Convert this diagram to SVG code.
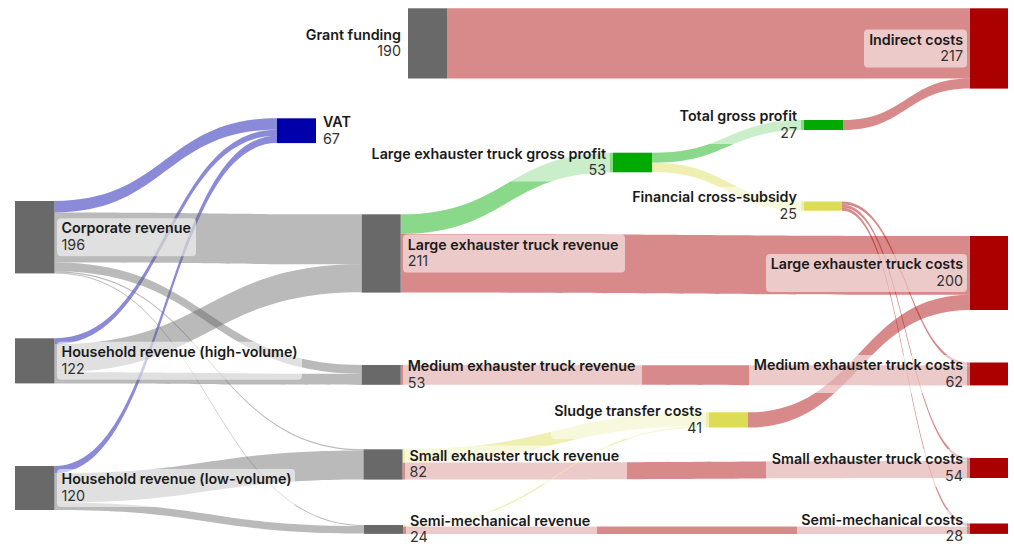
<svg xmlns="http://www.w3.org/2000/svg" width="1014" height="544" viewBox="0 0 1014 544">
<style>
.fl{stroke:none;fill-opacity:0.46}
.g{fill:#696969}.b{fill:#0000aa}.r{fill:#aa0000}.gr{fill:#00aa00}.y{fill:#dddd55}
.box{fill:#ffffff;fill-opacity:0.55}
.nm{font-family:Inter,"Noto Sans",sans-serif;font-size:14.3px;font-weight:600;fill:#1a1a1a}
.vl{font-family:Inter,"Noto Sans",sans-serif;font-size:14.3px;font-weight:400;fill:#333333}
.e{text-anchor:end}
</style>
<rect width="1014" height="544" fill="#ffffff"/>
<g id="connectors">
<path class="fl b" d="M54.5 201 C165.75 201 165.75 118.3 277 118.3 L277 129.8 C165.75 129.8 165.75 212.5 54.5 212.5Z"/>
<path class="fl b" d="M54.5 338.3 C165.75 338.3 165.75 129.8 277 129.8 L277 135.8 C165.75 135.8 165.75 344.3 54.5 344.3Z"/>
<path class="fl b" d="M54.5 466 C165.75 466 165.75 135.8 277 135.8 L277 143.1 C165.75 143.1 165.75 473.3 54.5 473.3Z"/>
<path class="fl g" d="M54.5 212.5 C208.1 212.5 208.1 214.3 361.7 214.3 L361.7 264.3 C208.1 264.3 208.1 262.5 54.5 262.5Z"/>
<path class="fl g" d="M54.5 262.5 C208.1 262.5 208.1 365 361.7 365 L361.7 373.8 C208.1 373.8 208.1 271.3 54.5 271.3Z"/>
<path class="fl g" d="M54.5 271.3 C209 271.3 209 449.3 363.5 449.3 L363.5 450.4 C209 450.4 209 272.4 54.5 272.4Z"/>
<path class="fl g" d="M54.5 272.4 C209.25 272.4 209.25 525 364 525 L364 526 C209.25 526 209.25 273.4 54.5 273.4Z"/>
<path class="fl g" d="M54.5 344.3 C208.1 344.3 208.1 264.3 361.7 264.3 L361.7 292.3 C208.1 292.3 208.1 372.3 54.5 372.3Z"/>
<path class="fl g" d="M54.5 372.3 C208.1 372.3 208.1 373.8 361.7 373.8 L361.7 384.9 C208.1 384.9 208.1 383.4 54.5 383.4Z"/>
<path class="fl g" d="M54.5 473.3 C209 473.3 209 450.4 363.5 450.4 L363.5 479.6 C209 479.6 209 502.5 54.5 502.5Z"/>
<path class="fl g" d="M54.5 502.5 C209.25 502.5 209.25 526 364 526 L364 533.5 C209.25 533.5 209.25 510 54.5 510Z"/>
<path class="fl r" d="M447 8.3 L970 8.3 L970 78.5 L447 78.5Z"/>
<path class="fl gr" d="M400.7 214.3 C506.85 214.3 506.85 152.7 613 152.7 L613 172.3 C506.85 172.3 506.85 233.9 400.7 233.9Z"/>
<path class="fl r" d="M400.7 233.9 C685.35 233.9 685.35 236 970 236 L970 294.7 C685.35 294.7 685.35 292.6 400.7 292.6Z"/>
<path class="fl gr" d="M652 152.7 C728 152.7 728 120 804 120 L804 130 C728 130 728 162.7 652 162.7Z"/>
<path class="fl y" d="M652 162.7 C728 162.7 728 201.5 804 201.5 L804 210.7 C728 210.7 728 171.9 652 171.9Z"/>
<path class="fl r" d="M843 120 C906.5 120 906.5 78.5 970 78.5 L970 88.5 C906.5 88.5 906.5 130 843 130Z"/>
<path class="fl r" d="M842 201.5 C906 201.5 906 362.5 970 362.5 L970 365.5 C906 365.5 906 204.5 842 204.5Z"/>
<path class="fl r" d="M842 204.5 C906 204.5 906 458 970 458 L970 461.1 C906 461.1 906 207.6 842 207.6Z"/>
<path class="fl r" d="M842 207.6 C906 207.6 906 523.5 970 523.5 L970 526.6 C906 526.6 906 210.7 842 210.7Z"/>
<path class="fl r" d="M400.7 365 C685.35 365 685.35 365.5 970 365.5 L970 385.4 C685.35 385.4 685.35 384.8 400.7 384.8Z"/>
<path class="fl y" d="M402.5 449.3 C555.75 449.3 555.75 412.3 709 412.3 L709 425.7 C555.75 425.7 555.75 462.7 402.5 462.7Z"/>
<path class="fl r" d="M402.5 462.7 C686.25 462.7 686.25 461.1 970 461.1 L970 478 C686.25 478 686.25 479.6 402.5 479.6Z"/>
<path class="fl y" d="M403 525 C556 525 556 425.7 709 425.7 L709 427.3 C556 427.3 556 526.6 403 526.6Z"/>
<path class="fl r" d="M403 526.6 C686.5 526.6 686.5 526.6 970 526.6 L970 533.9 C686.5 533.9 686.5 533.9 403 533.9Z"/>
<path class="fl r" d="M748 412.3 C859 412.3 859 294.7 970 294.7 L970 310 C859 310 859 427.5 748 427.5Z"/>
</g>
<g id="node-corporate-revenue"><rect class="g" x="15" y="201" width="39.5" height="72.4"/><rect class="box" x="57" y="218.2" width="139" height="38" rx="4"/><text class="nm" x="61.5" y="233.4">Corporate revenue</text><text class="vl" x="61.5" y="249.9">196</text></g>
<g id="node-household-high"><rect class="g" x="15" y="338.3" width="39.5" height="45.1"/><rect class="box" x="57" y="341.85" width="245" height="38" rx="4"/><text class="nm" x="61.5" y="357.05">Household revenue (high-volume)</text><text class="vl" x="61.5" y="373.55">122</text></g>
<g id="node-household-low"><rect class="g" x="15" y="466" width="39.5" height="44"/><rect class="box" x="57" y="469" width="238" height="38" rx="4"/><text class="nm" x="61.5" y="484.2">Household revenue (low-volume)</text><text class="vl" x="61.5" y="500.7">120</text></g>
<g id="node-vat"><rect class="b" x="277" y="118.3" width="39" height="24.8"/><text class="nm" x="323" y="127.2">VAT</text><text class="vl" x="323" y="143.5">67</text></g>
<g id="node-grant-funding"><rect class="g" x="408" y="8.3" width="39" height="70.2"/><text class="nm e" x="401" y="39.6">Grant funding</text><text class="vl e" x="401" y="56.1">190</text></g>
<g id="node-large-revenue"><rect class="g" x="361.7" y="214.3" width="39" height="78.3"/><rect class="box" x="403" y="234.45" width="222" height="38" rx="4"/><text class="nm" x="407.7" y="249.65">Large exhauster truck revenue</text><text class="vl" x="407.7" y="266.15">211</text></g>
<g id="node-medium-revenue"><rect class="g" x="361.7" y="365" width="39" height="19.8"/><rect class="box" x="403" y="355.9" width="239" height="38" rx="4"/><text class="nm" x="407.7" y="371.1">Medium exhauster truck revenue</text><text class="vl" x="407.7" y="387.6">53</text></g>
<g id="node-small-revenue"><rect class="g" x="363.5" y="449.3" width="39" height="30.3"/><rect class="box" x="405" y="445.45" width="222" height="38" rx="4"/><text class="nm" x="409.5" y="460.65">Small exhauster truck revenue</text><text class="vl" x="409.5" y="477.15">82</text></g>
<g id="node-semi-revenue"><rect class="g" x="364" y="525" width="39" height="8.9"/><rect class="box" x="406" y="510.45" width="191" height="38" rx="4"/><text class="nm" x="410" y="525.65">Semi-mechanical revenue</text><text class="vl" x="410" y="542.15">24</text></g>
<g id="node-large-gross-profit"><rect class="gr" x="613" y="152.7" width="39" height="19.6"/><rect class="box" x="369" y="143.5" width="241" height="38" rx="4"/><text class="nm e" x="606" y="158.7">Large exhauster truck gross profit</text><text class="vl e" x="606" y="175.2">53</text></g>
<g id="node-total-gross-profit"><rect class="gr" x="804" y="120" width="39" height="10"/><rect class="box" x="677" y="106" width="124" height="38" rx="4"/><text class="nm e" x="797" y="121.2">Total gross profit</text><text class="vl e" x="797" y="137.7">27</text></g>
<g id="node-financial-cross-subsidy"><rect class="y" x="804" y="201.5" width="38" height="9.2"/><rect class="box" x="628" y="187.1" width="173" height="38" rx="4"/><text class="nm e" x="797" y="202.3">Financial cross-subsidy</text><text class="vl e" x="797" y="218.8">25</text></g>
<g id="node-sludge-transfer"><rect class="y" x="709" y="412.3" width="39" height="15.2"/><rect class="box" x="551" y="400.9" width="155" height="38" rx="4"/><text class="nm e" x="702" y="416.1">Sludge transfer costs</text><text class="vl e" x="702" y="432.6">41</text></g>
<g id="node-indirect-costs"><rect class="r" x="970" y="8.3" width="38" height="80.3"/><rect class="box" x="864" y="29.45" width="103" height="38" rx="4"/><text class="nm e" x="963" y="44.65">Indirect costs</text><text class="vl e" x="963" y="61.15">217</text></g>
<g id="node-large-costs"><rect class="r" x="970" y="236" width="38" height="74"/><rect class="box" x="766" y="254" width="201" height="38" rx="4"/><text class="nm e" x="963" y="269.2">Large exhauster truck costs</text><text class="vl e" x="963" y="285.7">200</text></g>
<g id="node-medium-costs"><rect class="r" x="970" y="362.5" width="38" height="22.9"/><rect class="box" x="749" y="354.95" width="218" height="38" rx="4"/><text class="nm e" x="963" y="370.15">Medium exhauster truck costs</text><text class="vl e" x="963" y="386.65">62</text></g>
<g id="node-small-costs"><rect class="r" x="970" y="458" width="38" height="20"/><rect class="box" x="766" y="449" width="201" height="38" rx="4"/><text class="nm e" x="963" y="464.2">Small exhauster truck costs</text><text class="vl e" x="963" y="480.7">54</text></g>
<g id="node-semi-costs"><rect class="r" x="970" y="523.5" width="38" height="10.4"/><rect class="box" x="797" y="509.7" width="170" height="38" rx="4"/><text class="nm e" x="963" y="524.9">Semi-mechanical costs</text><text class="vl e" x="963" y="541.4">28</text></g>
</svg>
